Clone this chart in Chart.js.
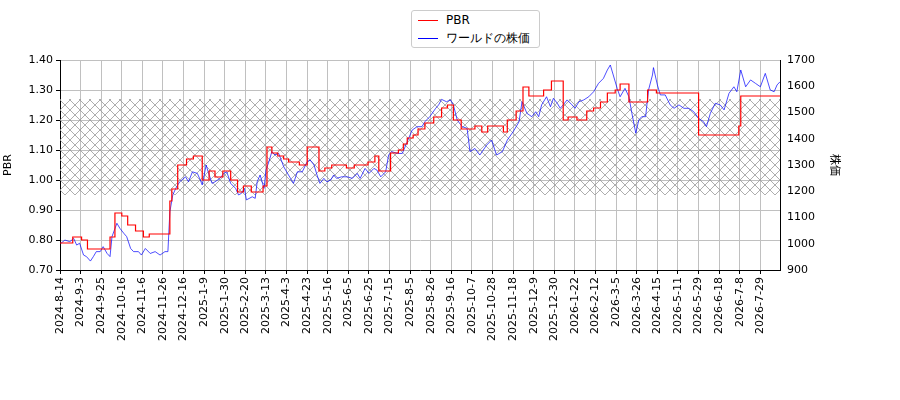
<!DOCTYPE html>
<html>
<head>
<meta charset="utf-8">
<script src="https://cdn.jsdelivr.net/npm/chart.js@4"></script>
<style>
  body { margin: 0; background: #fff; }
  #wrap { position: relative; width: 900px; height: 400px; }
  #legend { position: absolute; left: 411px; top: 10px; width: 127px; height: 36px;
    border: 1px solid #ccc; border-radius: 3px; background: #fff; font: 12px 'DejaVu Sans', sans-serif; }
  #legend div { position: absolute; left: 6px; height: 16px; line-height: 16px; }
  #legend span { display: inline-block; width: 20px; height: 0; vertical-align: middle; margin-right: 8px; }
</style>
</head>
<body>
<div id="wrap">
  <canvas id="chart" width="900" height="400"></canvas>
  <div id="legend">
    <div style="top:1px"><span style="border-top:1.5px solid red"></span>PBR</div>
    <div style="top:19px"><span style="border-top:1px solid blue"></span>ワールドの株価</div>
  </div>
</div>
<script>
// x = trading-position offset from 2024-8-14
const pbrDays = [0, 13, 22, 28, 51, 56, 63, 69, 77, 85, 91, 112, 114, 120, 129, 136, 145, 152, 158, 166, 174, 181, 187, 195, 207, 211, 216, 222, 228, 233, 244, 250, 252, 264, 270, 277, 292, 300, 314, 321, 325, 337, 345, 350, 354, 360, 365, 372, 381, 389, 395, 401, 409, 423, 430, 436, 452, 456, 465, 472, 478, 493, 501, 513, 518, 527, 537, 544, 551, 558, 566, 571, 580, 599, 608, 651, 692, 694, 734];
const pbrValues = [0.79, 0.81, 0.80, 0.77, 0.81, 0.89, 0.88, 0.85, 0.83, 0.81, 0.82, 0.93, 0.97, 1.05, 1.07, 1.08, 1.00, 1.03, 1.01, 1.03, 1.00, 0.96, 0.98, 0.96, 0.98, 1.11, 1.09, 1.08, 1.07, 1.06, 1.05, 1.05, 1.11, 1.03, 1.04, 1.05, 1.04, 1.05, 1.06, 1.08, 1.03, 1.09, 1.10, 1.12, 1.14, 1.15, 1.17, 1.19, 1.21, 1.24, 1.25, 1.20, 1.17, 1.18, 1.16, 1.18, 1.16, 1.20, 1.23, 1.31, 1.28, 1.30, 1.33, 1.20, 1.21, 1.20, 1.23, 1.24, 1.26, 1.29, 1.30, 1.32, 1.26, 1.30, 1.29, 1.15, 1.18, 1.28, 1.28];

const priceDays = [1, 5, 10, 14, 17, 20, 24, 27, 31, 34, 37, 41, 44, 48, 51, 53, 58, 61, 65, 68, 72, 75, 80, 83, 87, 92, 97, 102, 107, 110, 112, 115, 118, 122, 128, 131, 135, 140, 143, 145, 149, 151, 155, 158, 163, 167, 170, 174, 179, 182, 185, 188, 190, 196, 199, 201, 204, 208, 210, 213, 216, 219, 223, 228, 231, 235, 238, 242, 247, 252, 255, 259, 262, 265, 269, 272, 276, 279, 282, 287, 293, 298, 303, 306, 311, 315, 320, 323, 327, 332, 335, 338, 344, 349, 354, 359, 364, 369, 372, 377, 383, 386, 389, 394, 398, 401, 405, 410, 415, 418, 423, 428, 435, 440, 445, 451, 456, 462, 468, 471, 476, 481, 485, 488, 491, 496, 500, 503, 507, 510, 513, 517, 522, 525, 529, 534, 539, 544, 549, 554, 558, 561, 564, 568, 571, 576, 580, 583, 587, 590, 593, 597, 600, 604, 605, 609, 612, 617, 622, 626, 631, 636, 641, 646, 651, 656, 659, 663, 668, 673, 677, 682, 687, 690, 694, 699, 704, 709, 714, 719, 724, 728, 731, 734];
const priceValues = [1002, 1014, 1008, 1020, 995, 1002, 957, 951, 934, 951, 970, 970, 989, 963, 951, 1027, 1078, 1059, 1040, 1027, 982, 970, 970, 957, 982, 963, 970, 957, 970, 970, 1122, 1186, 1211, 1236, 1255, 1236, 1274, 1268, 1243, 1224, 1300, 1274, 1230, 1236, 1249, 1268, 1274, 1230, 1211, 1186, 1192, 1211, 1167, 1179, 1173, 1236, 1262, 1211, 1281, 1313, 1351, 1338, 1344, 1294, 1274, 1249, 1230, 1274, 1274, 1313, 1319, 1300, 1262, 1230, 1249, 1236, 1243, 1262, 1249, 1255, 1255, 1249, 1268, 1249, 1287, 1268, 1287, 1281, 1255, 1274, 1338, 1351, 1344, 1344, 1389, 1433, 1446, 1446, 1465, 1484, 1516, 1529, 1550, 1541, 1548, 1529, 1471, 1446, 1440, 1351, 1363, 1338, 1376, 1395, 1338, 1351, 1395, 1427, 1465, 1541, 1497, 1484, 1503, 1484, 1529, 1560, 1522, 1554, 1535, 1516, 1529, 1548, 1529, 1516, 1541, 1548, 1560, 1579, 1611, 1630, 1662, 1681, 1643, 1592, 1560, 1592, 1560, 1497, 1421, 1471, 1484, 1484, 1586, 1643, 1671, 1605, 1567, 1567, 1529, 1516, 1529, 1516, 1516, 1503, 1478, 1465, 1446, 1497, 1535, 1529, 1510, 1573, 1598, 1579, 1662, 1598, 1624, 1611, 1598, 1649, 1586, 1579, 1605, 1617];

const tickDays = [0, 21, 42, 63, 84, 105, 126, 147, 168, 189, 210, 231, 252, 273, 294, 315, 336, 357, 378, 399, 420, 441, 462, 483, 504, 525, 546, 567, 588, 609, 630, 651, 672, 693, 714];
const tickLabels = ['2024-8-14', '2024-9-3', '2024-9-25', '2024-10-16', '2024-11-6', '2024-11-26', '2024-12-16', '2025-1-9', '2025-1-30', '2025-2-20', '2025-3-13', '2025-4-3', '2025-4-23', '2025-5-16', '2025-6-5', '2025-6-25', '2025-7-15', '2025-8-5', '2025-8-26', '2025-9-16', '2025-10-7', '2025-10-28', '2025-11-18', '2025-12-9', '2025-12-30', '2026-1-22', '2026-2-12', '2026-3-5', '2026-3-26', '2026-4-15', '2026-5-11', '2026-5-29', '2026-6-18', '2026-7-8', '2026-7-29'];
const bandLow = 0.95, bandHigh = 1.27;

function makeHatch(ctx) {
    const c = document.createElement('canvas');
    c.width = 10; c.height = 10;
    const g = c.getContext('2d');
    g.strokeStyle = '#999';
    g.lineWidth = 0.8;
    g.beginPath();
    g.moveTo(0, 0); g.lineTo(10, 10);
    g.moveTo(10, 0); g.lineTo(0, 10);
    g.stroke();
    return ctx.createPattern(c, 'repeat');
}

const hatchBand = {
    id: 'hatchBand',
    beforeDatasetsDraw(chart) {
        const { ctx, chartArea: a, scales } = chart;
        const y1 = scales.y.getPixelForValue(bandHigh);
        const y2 = scales.y.getPixelForValue(bandLow);
        ctx.save();
        ctx.fillStyle = makeHatch(ctx);
        ctx.fillRect(a.left, y1, a.right - a.left, y2 - y1);
        ctx.restore();
    }
};

const font = { family: "'DejaVu Sans', sans-serif", size: 11 };

new Chart(document.getElementById('chart').getContext('2d'), {
    type: 'line',
    data: {
        datasets: [{
            label: 'PBR',
            data: pbrDays.map((d, i) => ({ x: d, y: pbrValues[i] })),
            borderColor: 'red',
            borderWidth: 1.2,
            stepped: 'before',
            pointRadius: 0,
            yAxisID: 'y'
        }, {
            label: 'ワールドの株価',
            data: priceDays.map((d, i) => ({ x: d, y: priceValues[i] })),
            borderColor: 'blue',
            borderWidth: 0.7,
            pointRadius: 0,
            tension: 0,
            yAxisID: 'y2'
        }]
    },
    options: {
        responsive: false,
        animation: false,
        layout: { padding: { top: 60, right: 56 } },
        plugins: { legend: { display: false }, tooltip: { enabled: false } },
        scales: {
            x: {
                type: 'linear', min: 0, max: 734,
                afterBuildTicks: s => { s.ticks = tickDays.map(v => ({ value: v })); },
                afterFit: s => { s.height = 130; },
                ticks: { callback: v => tickLabels[tickDays.indexOf(v)], maxRotation: 90, minRotation: 90, autoSkip: false, color: '#000', font },
                grid: { color: '#c0c0c0', tickColor: '#000', tickLength: 4 },
                border: { color: '#000' }
            },
            y: {
                position: 'left', min: 0.7, max: 1.4,
                afterFit: s => { s.width = 60; },
                ticks: { stepSize: 0.1, callback: v => v.toFixed(2), color: '#000', font },
                title: { display: true, text: 'PBR', color: '#000', font, padding: 2 },
                grid: { color: '#c0c0c0', tickColor: '#000', tickLength: 4 },
                border: { color: '#000' }
            },
            y2: {
                position: 'right', min: 900, max: 1700,
                afterFit: s => { s.width = 64; },
                ticks: { stepSize: 100, callback: v => String(v), color: '#000', font },
                title: { display: true, text: '株価', color: '#000', font: { family: "'Noto Sans CJK JP', sans-serif", size: 11 }, padding: 2 },
                grid: { display: false, tickColor: '#000', tickLength: 4, drawOnChartArea: false },
                border: { color: '#000' }
            }
        }
    },
    plugins: [hatchBand]
});
</script>
</body>
</html>
